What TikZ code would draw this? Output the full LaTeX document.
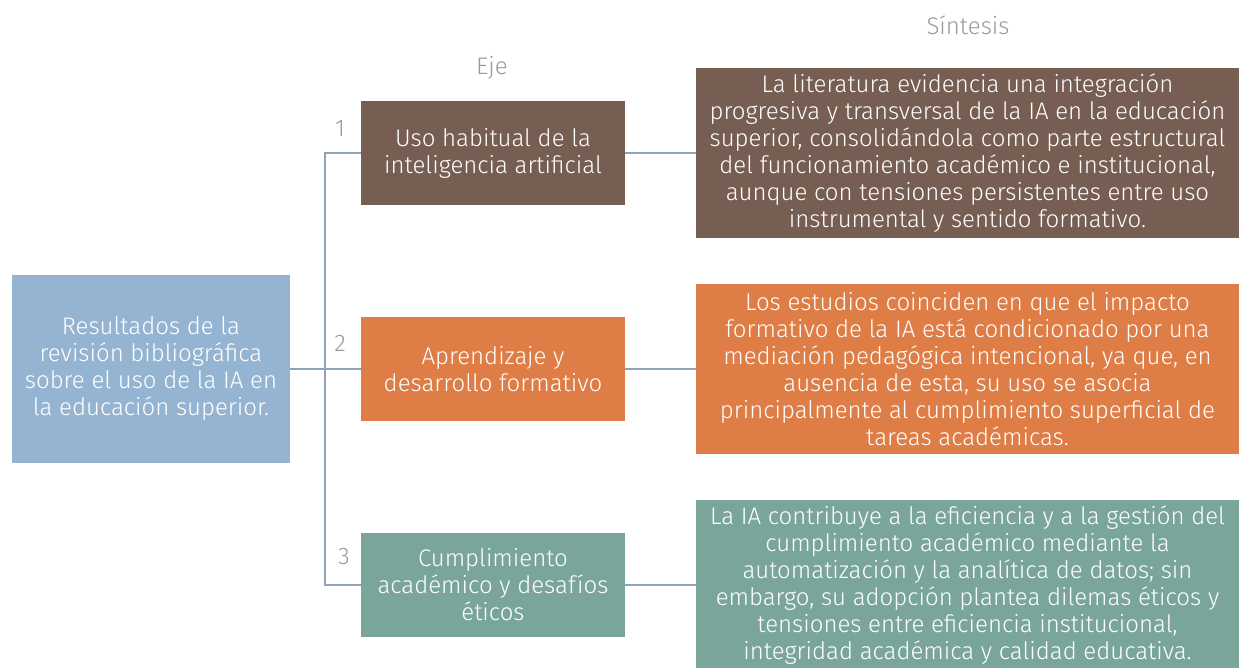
\documentclass[tikz,border=0pt]{standalone}
\usepackage{fontspec}
\setmainfont{Fira Sans Light}
\usepackage{xcolor}
\usetikzlibrary{positioning}

\definecolor{resazul}{HTML}{95B4D1}
\definecolor{ejecafe}{HTML}{765E52}
\definecolor{ejenaranja}{HTML}{DE7D45}
\definecolor{ejeverde}{HTML}{7AA59B}
\definecolor{linea}{HTML}{8FA3B8}
\definecolor{rotulo}{HTML}{9A9A9A}

\begin{document}
\begin{tikzpicture}[x=1pt, y=-1pt,
    caja/.style={text=white, align=center, inner sep=1pt, outer sep=0pt,
                 font=\fontsize{24}{27}\selectfont},
    eje/.style={caja, minimum width=264pt, minimum height=104pt},
    sintesis/.style={caja, minimum width=543pt, minimum height=170pt},
    titulo/.style={text=rotulo, font=\fontsize{24}{27}\selectfont},
    conn/.style={draw=linea, line width=1.2pt}]
\useasboundingbox (0,0) rectangle (1239,667);

% Titles
\node[titulo] (teje) at (492,68) {Eje};
\node[titulo] (tsin) at (968,25) {Síntesis};

% Main box
\node[caja, fill=resazul, minimum width=278pt, minimum height=188pt] (res) at (151,369)
  {Resultados de la\\revisión bibliográfica\\sobre el uso de la IA en\\la educación superior.};

% Axes
\node[eje, fill=ejecafe] (e1) at (493,153) {Uso habitual de la\\inteligencia artificial};
\node[eje, fill=ejenaranja] (e2) at (493,369) {Aprendizaje y\\desarrollo formativo};
\node[eje, fill=ejeverde] (e3) at (493,585) {Cumplimiento\\académico y desafíos\\éticos};

% Numbers
\node[titulo] (n1) at (340,129) {1};
\node[titulo] (n2) at (340,343) {2};
\node[titulo] (n3) at (344,557) {3};

% Synthesis
\node[sintesis, fill=ejecafe] (s1) at (967.5,153)
  {La literatura evidencia una integración\\progresiva y transversal de la IA en la educación\\superior, consolidándola como parte estructural\\del funcionamiento académico e institucional,\\aunque con tensiones persistentes entre uso\\instrumental y sentido formativo.};
\node[sintesis, fill=ejenaranja] (s2) at (967.5,369)
  {Los estudios coinciden en que el impacto\\formativo de la IA está condicionado por una\\mediación pedagógica intencional, ya que, en\\ausencia de esta, su uso se asocia\\principalmente al cumplimiento superficial de\\tareas académicas.};
\node[sintesis, fill=ejeverde] (s3) at (967.5,585)
  {La IA contribuye a la eficiencia y a la gestión del\\cumplimiento académico mediante la\\automatización y la analítica de datos; sin\\embargo, su adopción plantea dilemas éticos y\\tensiones entre eficiencia institucional,\\integridad académica y calidad educativa.};

% Connectors
\draw[conn] (res.east) -- (e2.west);
\draw[conn] (e1.west) -- ++(-36,0) |- (e3.west);
\foreach \i in {1,2,3} {
    \draw[conn] (e\i.east) -- (s\i.west);
}
\end{tikzpicture}
\end{document}
